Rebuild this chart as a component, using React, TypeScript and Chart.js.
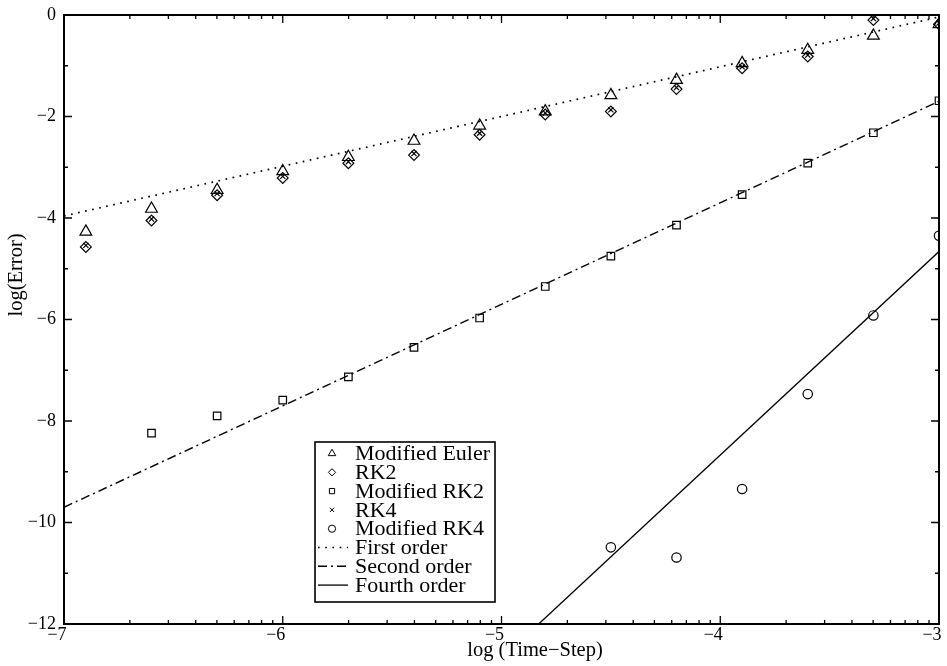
import React, { useEffect, useRef } from "react";
import { Chart, registerables } from "chart.js";
import { drawPoint } from "chart.js/helpers";

Chart.register(...registerables);

// ---- data ----
const timeSteps = [-6.9, -6.6, -6.3, -6.0, -5.7, -5.4, -5.1, -4.8, -4.5, -4.2, -3.9, -3.6, -3.3, -3.0];
const modifiedEuler = [-4.27, -3.82, -3.45, -3.08, -2.8, -2.48, -2.18, -1.9, -1.58, -1.28, -0.95, -0.69, -0.41, -0.18];
const rk2 = [-4.57, -4.05, -3.55, -3.21, -2.92, -2.76, -2.36, -1.96, -1.9, -1.46, -1.05, -0.82, -0.1, -0.18];
const rk4 = [-4.54, -4.02, -3.52, -3.18, -2.89, -2.73, -2.33, -1.93, -1.87, -1.43, -1.02, -0.79, -0.07, -0.16];
const modRK2Steps = [-6.6, -6.3, -6.0, -5.7, -5.4, -5.1, -4.8, -4.5, -4.2, -3.9, -3.6, -3.3, -3.0];
const modifiedRK2 = [-8.24, -7.9, -7.59, -7.13, -6.55, -5.97, -5.35, -4.75, -4.14, -3.54, -2.92, -2.32, -1.69];
const modRK4Steps = [-4.5, -4.2, -3.9, -3.6, -3.3, -3.0];
const modifiedRK4 = [-10.49, -10.69, -9.34, -7.47, -5.92, -4.35];
const firstOrderX = [-7, -3];
const firstOrderY = [-3.96, -0.04];
const secondOrderX = [-7, -3];
const secondOrderY = [-9.7, -1.7];
const fourthOrderX = [-4.83, -3];
const fourthOrderY = [-12, -4.66];

const xTickValues = [-7, -6, -5, -4, -3];
const xTickLabels = ["\u22127", "\u22126", "\u22125", "\u22124", "\u22123"];
const yTickValues = [-12, -10, -8, -6, -4, -2, 0];
const yTickLabels = ["\u221212", "\u221210", "\u22128", "\u22126", "\u22124", "\u22122", "0"];
const minorMultipliers = [2, 3, 4, 5, 6, 7, 8, 9];
const yMinorValues = [-11, -9, -7, -5, -3, -1];

const xTitle = "log (Time\u2212Step)";
const yTitle = "log(Error)";

const FONT = "'Liberation Serif', 'Times New Roman', serif";

const pts = (xs: number[], ys: number[]) => xs.map((x, i) => ({ x, y: ys[i] }));

const markerBase = {
  showLine: false,
  borderColor: "#000",
  backgroundColor: "rgba(0,0,0,0)",
  pointBorderWidth: 1.2,
  clip: 0,
};

const lineBase = {
  showLine: true,
  pointRadius: 0,
  borderColor: "#000",
  backgroundColor: "rgba(0,0,0,0)",
  fill: false,
};

const framePlugin = {
  id: "frame",
  afterDatasetsDraw(chart: any) {
    const { ctx, chartArea: a, scales } = chart;
    const xs = scales.x;
    const ys = scales.y;
    ctx.save();
    ctx.strokeStyle = "#000";
    ctx.lineWidth = 2;
    ctx.strokeRect(a.left, a.top, a.right - a.left, a.bottom - a.top);
    ctx.lineWidth = 1.3;
    const majorLen = 8;
    const minorLen = 4;
    const vTick = (px: number, len: number) => {
      ctx.beginPath();
      ctx.moveTo(px, a.bottom);
      ctx.lineTo(px, a.bottom - len);
      ctx.moveTo(px, a.top);
      ctx.lineTo(px, a.top + len);
      ctx.stroke();
    };
    const hTick = (py: number, len: number) => {
      ctx.beginPath();
      ctx.moveTo(a.left, py);
      ctx.lineTo(a.left + len, py);
      ctx.moveTo(a.right, py);
      ctx.lineTo(a.right - len, py);
      ctx.stroke();
    };
    xTickValues.forEach((v, i) => {
      vTick(xs.getPixelForValue(v), majorLen);
      if (i < xTickValues.length - 1) {
        minorMultipliers.forEach((m) => vTick(xs.getPixelForValue(v + Math.log10(m)), minorLen));
      }
    });
    yTickValues.forEach((v) => hTick(ys.getPixelForValue(v), majorLen));
    yMinorValues.forEach((v) => hTick(ys.getPixelForValue(v), minorLen));
    ctx.restore();
  },
};

const titlesPlugin = {
  id: "titles",
  afterDraw(chart: any) {
    const { ctx } = chart;
    ctx.save();
    ctx.fillStyle = "#000";
    ctx.font = `20.5px ${FONT}`;
    ctx.textAlign = "center";
    ctx.textBaseline = "middle";
    ctx.fillText(xTitle, 535, 651);
    ctx.translate(17, 275);
    ctx.rotate(-Math.PI / 2);
    ctx.fillText(yTitle, 0, 0);
    ctx.restore();
  },
};

const legendPlugin = {
  id: "customLegend",
  afterDraw(chart: any) {
    const { ctx } = chart;
    const box = { x: 315, y: 442, w: 180, h: 160 };
    ctx.save();
    ctx.fillStyle = "#fff";
    ctx.fillRect(box.x, box.y, box.w, box.h);
    ctx.strokeStyle = "#000";
    ctx.lineWidth = 1.6;
    ctx.strokeRect(box.x, box.y, box.w, box.h);
    const y0 = 453.5;
    const dy = 18.8;
    chart.data.datasets.forEach((ds: any, i: number) => {
      const y = y0 + i * dy;
      ctx.strokeStyle = "#000";
      ctx.fillStyle = "rgba(0,0,0,0)";
      if (ds.showLine) {
        ctx.lineWidth = ds.borderWidth || 1;
        ctx.setLineDash(ds.borderDash || []);
        ctx.beginPath();
        ctx.moveTo(318, y);
        ctx.lineTo(348, y);
        ctx.stroke();
        ctx.setLineDash([]);
      } else {
        ctx.lineWidth = 1;
        drawPoint(ctx, { pointStyle: ds.pointStyle, radius: ds.legendRadius, rotation: 0, borderWidth: 1 }, 332, y);
      }
      ctx.fillStyle = "#000";
      ctx.font = `22px ${FONT}`;
      ctx.textAlign = "left";
      ctx.textBaseline = "middle";
      ctx.fillText(ds.label, 355, y + 1);
    });
    ctx.restore();
  },
};

export default function App() {
  const canvasRef = useRef<HTMLCanvasElement | null>(null);

  useEffect(() => {
    document.body.style.margin = "0";
    const canvas = canvasRef.current;
    if (!canvas) return;
    const chart = new Chart(canvas, {
      type: "scatter",
      data: {
        datasets: [
          { ...markerBase, label: "Modified Euler", data: pts(timeSteps, modifiedEuler), pointStyle: "triangle", pointRadius: 6.8, legendRadius: 4.3 } as any,
          { ...markerBase, label: "RK2", data: pts(timeSteps, rk2), pointStyle: "rectRot", pointRadius: 5.4, legendRadius: 3.6 } as any,
          { ...markerBase, label: "Modified RK2", data: pts(modRK2Steps, modifiedRK2), pointStyle: "rect", pointRadius: 5.3, legendRadius: 3.7 } as any,
          { ...markerBase, label: "RK4", data: pts(timeSteps, rk4), pointStyle: "crossRot", pointRadius: 3.6, legendRadius: 3 } as any,
          { ...markerBase, label: "Modified RK4", data: pts(modRK4Steps, modifiedRK4), pointStyle: "circle", pointRadius: 4.7, legendRadius: 3.6 } as any,
          { ...lineBase, label: "First order", data: pts(firstOrderX, firstOrderY), borderWidth: 1.7, borderDash: [1.7, 5.5] } as any,
          { ...lineBase, label: "Second order", data: pts(secondOrderX, secondOrderY), borderWidth: 1.4, borderDash: [9, 4, 2, 4] } as any,
          { ...lineBase, label: "Fourth order", data: pts(fourthOrderX, fourthOrderY), borderWidth: 1.3 } as any,
        ],
      },
      options: {
        animation: false,
        responsive: false,
        devicePixelRatio: 1,
        layout: { padding: { top: 15, right: 3, left: 0, bottom: 0 } },
        plugins: {
          legend: { display: false },
          tooltip: { enabled: false },
          title: { display: false },
        },
        scales: {
          x: {
            type: "linear",
            min: -7,
            max: -3,
            grid: { display: false, drawTicks: false },
            border: { display: false },
            afterBuildTicks: (s: any) => {
              s.ticks = xTickValues.map((v) => ({ value: v }));
            },
            afterFit: (s: any) => {
              s.height = 42;
              s.paddingLeft = 0;
              s.paddingRight = 0;
            },
            ticks: {
              autoSkip: false,
              maxRotation: 0,
              padding: 0,
              labelOffset: -7,
              color: "#000",
              font: { family: FONT, size: 18 },
              callback: (v: any) => {
                const i = xTickValues.indexOf(Number(v));
                return i >= 0 ? xTickLabels[i] : "";
              },
            },
          },
          y: {
            type: "linear",
            min: -12,
            max: 0,
            grid: { display: false, drawTicks: false },
            border: { display: false },
            afterBuildTicks: (s: any) => {
              s.ticks = yTickValues.map((v) => ({ value: v }));
            },
            afterFit: (s: any) => {
              s.width = 64;
              s.paddingTop = 0;
              s.paddingBottom = 0;
            },
            ticks: {
              autoSkip: false,
              padding: 8,
              color: "#000",
              font: { family: FONT, size: 18 },
              callback: (v: any) => {
                const i = yTickValues.indexOf(Number(v));
                return i >= 0 ? yTickLabels[i] : "";
              },
            },
          },
        },
      } as any,
      plugins: [framePlugin, titlesPlugin, legendPlugin],
    });
    return () => chart.destroy();
  }, []);

  return (
    <div style={{ width: 947, height: 666, background: "#fff" }}>
      <canvas ref={canvasRef} width={947} height={666} style={{ display: "block" }} />
    </div>
  );
}
